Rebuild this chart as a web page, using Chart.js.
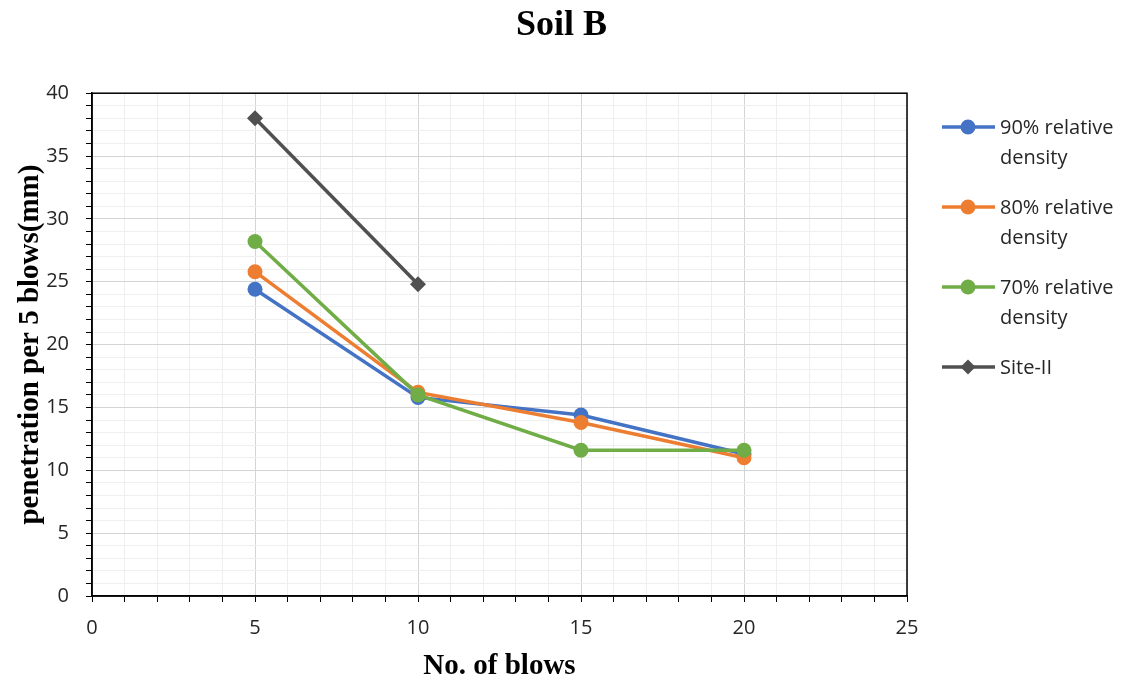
<!DOCTYPE html>
<html>
<head>
<meta charset="utf-8">
<script src="https://cdn.jsdelivr.net/npm/chart.js@4.4.0/dist/chart.umd.min.js"></script>
<style>
  html, body { margin: 0; padding: 0; background: #fff; }
</style>
</head>
<body>
<canvas id="grafico" width="1135" height="684"></canvas>
<script>
// Datos
const blows = [5, 10, 15, 20];
const density90 = [24.4, 15.8, 14.4, 11.3];
const density80 = [25.8, 16.2, 13.8, 11.0];
const density70 = [28.2, 16.0, 11.6, 11.6];
const siteBlows = [5, 10];
const siteII = [38.0, 24.8];

const seriesNames = [["90% relative", "density"], ["80% relative", "density"], ["70% relative", "density"], ["Site-II"]];
const seriesColors = ["#4472C4", "#ED7D31", "#70AD47", "#505050"];

const toPoints = (xs, ys) => xs.map((x, i) => ({ x: x, y: ys[i] }));

const tickFont = { family: "'Open Sans', sans-serif", size: 20 };
const titleFont = { family: "'Liberation Serif', 'Times New Roman', serif", size: 29, weight: "bold" };

// Marco superior/derecho y leyenda con texto en dos líneas
const marcoYLeyenda = {
    id: "marcoYLeyenda",
    afterDraw(chart) {
        const { ctx, chartArea: a } = chart;
        ctx.save();
        ctx.strokeStyle = "#000";
        ctx.lineWidth = 1.5;
        ctx.strokeRect(a.left, a.top, a.right - a.left, a.bottom - a.top);

        const x0 = a.right + 35;
        let y = 127;
        chart.data.datasets.forEach((ds, i) => {
            ctx.strokeStyle = ds.borderColor;
            ctx.fillStyle = ds.borderColor;
            ctx.lineWidth = 3.5;
            ctx.beginPath();
            ctx.moveTo(x0, y);
            ctx.lineTo(x0 + 53, y);
            ctx.stroke();
            const cx = x0 + 26;
            ctx.beginPath();
            if (ds.pointStyle === "rectRot") {
                const r = 7.5;
                ctx.moveTo(cx, y - r);
                ctx.lineTo(cx + r, y);
                ctx.lineTo(cx, y + r);
                ctx.lineTo(cx - r, y);
                ctx.closePath();
            } else {
                ctx.arc(cx, y, 7.5, 0, Math.PI * 2);
            }
            ctx.fill();

            ctx.fillStyle = "#262626";
            ctx.font = "20px 'Open Sans', sans-serif";
            ctx.textBaseline = "middle";
            ctx.textAlign = "left";
            seriesNames[i].forEach((linea, k) => {
                ctx.fillText(linea, x0 + 58, y + 1 + k * 30);
            });
            y += 80;
        });
        ctx.restore();
    }
};

const gridColor = (c) => (c.tick && c.tick.value % 5 === 0 ? "#d4d4d4" : "#efefef");

new Chart(document.getElementById("grafico"), {
    type: "line",
    data: {
        datasets: [
            { label: "90% relative density", data: toPoints(blows, density90), order: 3 },
            { label: "80% relative density", data: toPoints(blows, density80), order: 2 },
            { label: "70% relative density", data: toPoints(blows, density70), order: 1 },
            { label: "Site-II", data: toPoints(siteBlows, siteII), order: 0, pointStyle: "rectRot", pointRadius: 8 },
        ].map((ds, i) => Object.assign({
            borderColor: seriesColors[i],
            backgroundColor: seriesColors[i],
            pointBackgroundColor: seriesColors[i],
            pointBorderColor: seriesColors[i],
            borderWidth: 3.5,
            pointRadius: 7.5,
            pointBorderWidth: 0,
            pointStyle: "circle",
            fill: false,
            tension: 0,
        }, ds)),
    },
    options: {
        responsive: false,
        animation: false,
        devicePixelRatio: 1,
        layout: { padding: { left: 0, right: 12, top: 0, bottom: 0 } },
        plugins: {
            legend: { display: false },
            tooltip: { enabled: false },
            title: {
                display: true,
                text: "Soil B",
                color: "#000",
                font: { family: "'Liberation Serif', 'Times New Roman', serif", size: 36, weight: "bold" },
                padding: { top: 4, bottom: 46 },
            },
        },
        scales: {
            x: {
                type: "linear",
                min: 0,
                max: 25,
                afterFit: (s) => { s.height = 88; },
                ticks: {
                    stepSize: 1,
                    autoSkip: false,
                    maxRotation: 0,
                    padding: 14,
                    color: "#262626",
                    font: tickFont,
                    callback: (v) => (v % 5 === 0 ? v : ""),
                },
                grid: { color: gridColor, tickColor: "#000", tickLength: 6, lineWidth: 1 },
                border: { color: "#000", width: 1.5 },
                title: { display: true, text: "No. of blows", color: "#000", font: titleFont, padding: { top: 1, bottom: 0 } },
            },
            y: {
                min: 0,
                max: 40,
                afterFit: (s) => { s.width = 92; },
                ticks: {
                    stepSize: 1,
                    autoSkip: false,
                    padding: 17,
                    color: "#262626",
                    font: tickFont,
                    callback: (v) => (v % 5 === 0 ? v : ""),
                },
                grid: { color: gridColor, tickColor: "#000", tickLength: 6, lineWidth: 1 },
                border: { color: "#000", width: 1.5 },
                title: { display: true, text: "penetration per 5 blows(mm)", color: "#000", font: titleFont, padding: { top: 13, bottom: 0 } },
            },
            espacio: {
                position: "right",
                display: true,
                afterFit: (s) => { s.width = 216; },
                ticks: { display: false },
                grid: { display: false, drawTicks: false },
                border: { display: false },
            },
        },
    },
    plugins: [marcoYLeyenda],
});
</script>
</body>
</html>
